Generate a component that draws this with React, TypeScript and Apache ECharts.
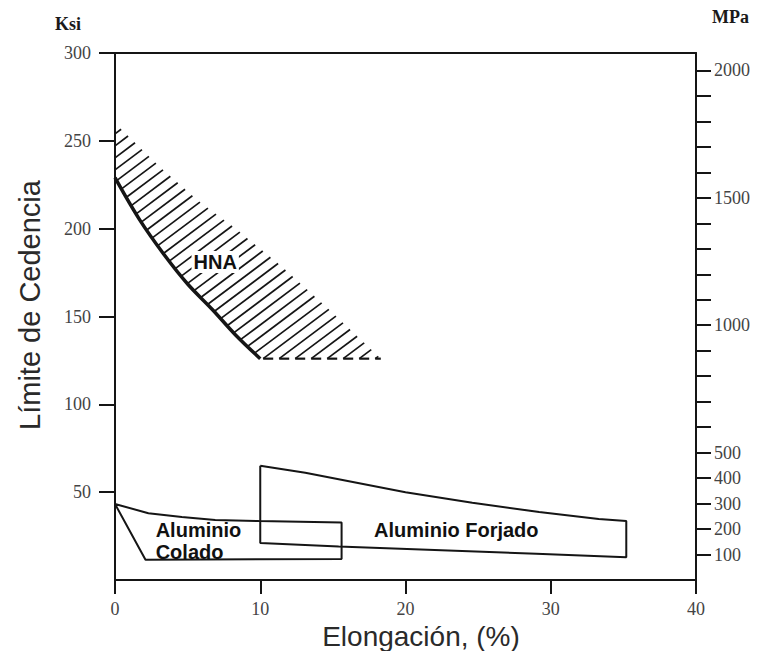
import React, { useEffect, useRef } from 'react';
import * as echarts from 'echarts';

// ---- axis ticks / labels ----
const xTicks = [0, 10, 20, 30, 40];
const ksiTicks = [50, 100, 150, 200, 250, 300];
const mpaTicks = [100, 200, 300, 400, 500, 600, 700, 800, 900, 1000, 1100, 1200, 1300, 1400, 1500, 1600, 1700, 1800, 1900, 2000];
const mpaLabels = [100, 200, 300, 400, 500, 1000, 1500, 2000];
const KSI_TO_MPA = 6.895;

// ---- HNA band (elongation %, ksi) ----
const hnaLower = [[0, 229], [1.7, 205], [3.4, 185], [5, 168.5], [6.7, 154], [8.3, 139.5], [10, 126]];
const hnaUpper = [[0, 260], [3.1, 235], [5.7, 216], [8.3, 200], [11.4, 179], [14.6, 155], [18.3, 126]];

// ---- aluminium regions ----
const coladoOutline = [[0, 43.3], [2.3, 38], [4.6, 35.9], [6.9, 34.1], [9.9, 33.6], [15.6, 32.8], [15.6, 12], [2.1, 11.5], [0, 43.3]];
const forjadoOutline = [[10, 65], [13.1, 61], [20, 50], [24.6, 44], [29.2, 38.7], [33.3, 34.7], [35.2, 33.6], [35.2, 13], [29, 15], [15.4, 19], [10, 21], [10, 65]];

// ---- region names ----
const regionNames = ['HNA', 'Aluminio\nColado', 'Aluminio Forjado'];
const regionAnchors = [[6.9, 181], [2.8, 22.2], [23.5, 28.5]];

const SERIF = 'Liberation Serif';
const SANS = 'Liberation Sans';
const INK = '#151515';

export default function App() {
  const ref = useRef<HTMLDivElement>(null);
  useEffect(() => {
    document.body.style.margin = '0';
    if (!ref.current) return;
    const chart = echarts.init(ref.current, null, { renderer: 'svg' });

    const HATCH_SLOPE = 0.75;
    const HATCH_STEP = 12;
    const FOOT = 10;

    const renderHatch = (_params: any, api: any) => {
      const upper = hnaUpper.map((p) => api.coord(p));
      const lower = hnaLower.map((p) => api.coord(p));
      const poly = [...upper, ...lower.slice().reverse()];
      const bottomEdge = upper.length - 1;
      const n = poly.length;
      const cs = poly.map((p: number[]) => p[1] + HATCH_SLOPE * p[0]);
      const cMin = Math.min(...cs);
      const cMax = Math.max(...cs);
      const maxX = Math.max(...poly.map((p: number[]) => p[0]));
      const children: any[] = [];
      for (let c = cMax - HATCH_STEP * 0.35; c > cMin; c -= HATCH_STEP) {
        const hits: { x: number; y: number; e: number }[] = [];
        for (let i = 0; i < n; i++) {
          const a = poly[i];
          const b = poly[(i + 1) % n];
          const fa = a[1] + HATCH_SLOPE * a[0] - c;
          const fb = b[1] + HATCH_SLOPE * b[0] - c;
          if ((fa > 0) !== (fb > 0)) {
            const t = fa / (fa - fb);
            hits.push({ x: a[0] + t * (b[0] - a[0]), y: a[1] + t * (b[1] - a[1]), e: i });
          }
        }
        hits.sort((p, q) => p.x - q.x);
        for (let k = 0; k + 1 < hits.length; k += 2) {
          const p = hits[k];
          const q = hits[k + 1];
          children.push({
            type: 'line',
            shape: { x1: p.x, y1: p.y, x2: q.x, y2: q.y },
            style: { stroke: INK, lineWidth: 1.7 },
          });
          if (p.e === bottomEdge) {
            children.push({
              type: 'line',
              shape: { x1: p.x, y1: p.y, x2: Math.min(p.x + FOOT, maxX), y2: p.y },
              style: { stroke: INK, lineWidth: 2.2 },
            });
          }
        }
      }
      return { type: 'group', children };
    };

    const axisLine = { show: true, onZero: false, lineStyle: { color: INK, width: 2 } };
    const tickStyle = { color: INK, width: 2 };
    const labelBase = { fontFamily: SERIF, fontSize: 18, color: '#444', formatter: (v: number) => String(v) };

    const option: any = {
      animation: false,
      backgroundColor: '#ffffff',
      grid: { left: 115, right: 67, top: 53, bottom: 71 },
      xAxis: [
        {
          type: 'value', min: 0, max: 40, interval: 10, position: 'bottom',
          axisLine,
          axisTick: { show: true, length: 14, lineStyle: tickStyle, customValues: xTicks },
          axisLabel: { ...labelBase, margin: 20, customValues: xTicks },
          splitLine: { show: false },
        },
        {
          type: 'value', min: 0, max: 40, position: 'top',
          axisLine,
          axisTick: { show: false },
          axisLabel: { show: false },
          splitLine: { show: false },
        },
      ],
      yAxis: [
        {
          type: 'value', min: 0, max: 300, interval: 50, position: 'left',
          axisLine,
          axisTick: { show: true, length: 16, lineStyle: tickStyle, customValues: ksiTicks },
          axisLabel: { ...labelBase, margin: 24, customValues: ksiTicks },
          splitLine: { show: false },
        },
        {
          type: 'value', min: 0, max: 300 * KSI_TO_MPA, position: 'right',
          axisLine,
          axisTick: { show: true, length: 15, lineStyle: tickStyle, customValues: mpaTicks },
          axisLabel: { ...labelBase, margin: 18, customValues: mpaLabels },
          splitLine: { show: false },
        },
      ],
      series: [
        {
          type: 'custom', name: 'HNA hatch', xAxisIndex: 0, yAxisIndex: 0,
          renderItem: renderHatch, data: [[0, hnaLower[hnaLower.length - 1][1]]], silent: true, z: 2,
        },
        {
          type: 'line', name: 'HNA', data: hnaLower, smooth: 0.35, symbol: 'none',
          lineStyle: { color: INK, width: 3.5 }, z: 3, silent: true,
        },
        {
          type: 'line', name: 'Aluminio Colado', data: coladoOutline, symbol: 'none',
          lineStyle: { color: INK, width: 2 }, z: 3, silent: true,
        },
        {
          type: 'line', name: 'Aluminio Forjado', data: forjadoOutline, symbol: 'none',
          lineStyle: { color: INK, width: 2 }, z: 3, silent: true,
        },
        {
          type: 'scatter', name: 'labels', symbolSize: 0, silent: true, z: 4,
          itemStyle: { color: '#ffffff', opacity: 0 },
          data: regionNames.map((name, i) => ({
            name,
            value: regionAnchors[i],
            label: i === 1
              ? { align: 'left' }
              : i === 0
                ? { backgroundColor: '#ffffff', padding: [0, 2] }
                : {},
          })),
          label: {
            show: true, position: 'inside', formatter: (p: any) => p.name,
            fontFamily: SANS, fontWeight: 'bold', fontSize: 20, lineHeight: 22, color: '#111111',
            textBorderWidth: 0, textBorderColor: 'transparent', opacity: 1,
          },
        },
      ],
      graphic: [
        { type: 'text', left: 55, top: 15, style: { text: 'Ksi', font: `bold 18px "${SERIF}"`, fill: '#1a1a1a' } },
        { type: 'text', left: 712, top: 8, style: { text: 'MPa', font: `bold 18px "${SERIF}"`, fill: '#1a1a1a' } },
        {
          type: 'text', x: 30, y: 305, rotation: Math.PI / 2,
          style: { text: 'Límite de Cedencia', font: `29px "${SANS}"`, fill: '#2a2a2a', align: 'center', verticalAlign: 'middle' },
        },
        {
          type: 'text', x: 421, y: 636,
          style: { text: 'Elongación, (%)', font: `28px "${SANS}"`, fill: '#2a2a2a', align: 'center', verticalAlign: 'middle' },
        },
      ],
    };
    chart.setOption(option);
    return () => chart.dispose();
  }, []);
  return <div ref={ref} style={{ width: 763, height: 651 }} />;
}
